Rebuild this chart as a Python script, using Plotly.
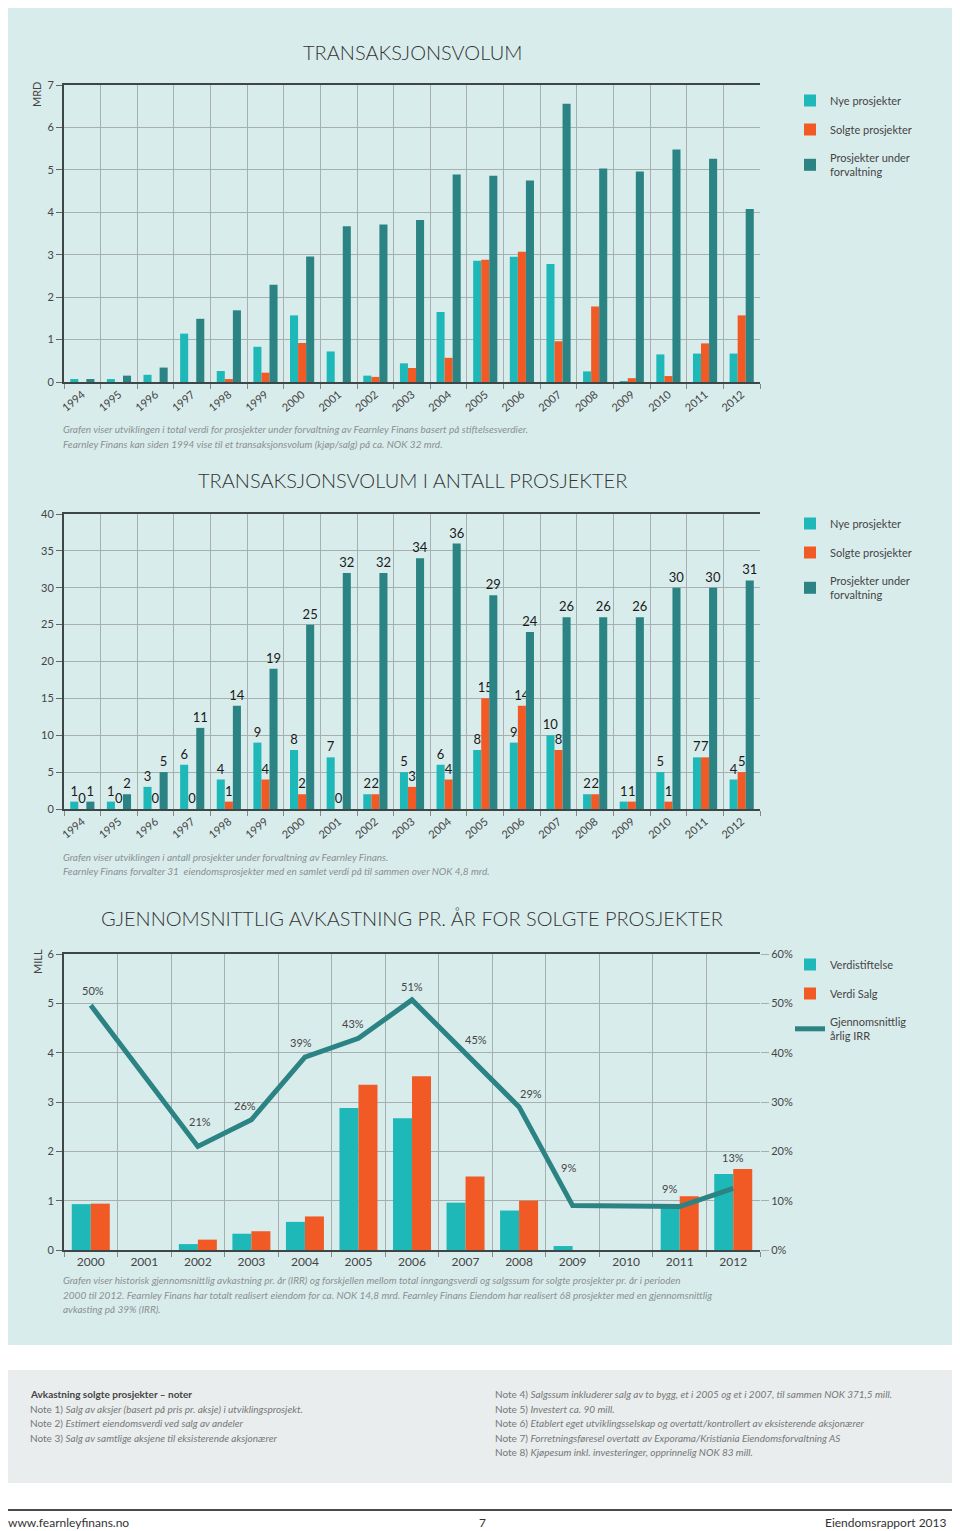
import plotly.graph_objects as go

# figure is placed at the page's 8px body margin; size it so the page does not overflow
OFF = 8
W, H = 960 - OFF, 1531 - OFF
def X(px): return (px - OFF) / W
def Y(py): return 1 - (py - OFF) / H

# ---------------- DATA ----------------
years = [str(y) for y in range(1994, 2013)]

# Chart 1: transaksjonsvolum (MRD)
vol_nye = [0.07, 0.07, 0.17, 1.14, 0.26, 0.83, 1.57, 0.72, 0.15, 0.44, 1.65, 2.86, 2.95, 2.78, 0.25, 0.01, 0.65, 0.67, 0.67]
vol_solgte = [0, 0, 0, 0, 0.07, 0.22, 0.92, 0, 0.12, 0.33, 0.57, 2.88, 3.07, 0.96, 1.78, 0.09, 0.14, 0.91, 1.57]
vol_forv = [0.07, 0.15, 0.34, 1.49, 1.69, 2.29, 2.96, 3.67, 3.71, 3.82, 4.89, 4.86, 4.75, 6.56, 5.03, 4.96, 5.48, 5.26, 4.08]

# Chart 2: antall prosjekter
ant_nye = [1, 1, 3, 6, 4, 9, 8, 7, 2, 5, 6, 8, 9, 10, 2, 1, 5, 7, 4]
ant_solgte = [0, 0, 0, 0, 1, 4, 2, 0, 2, 3, 4, 15, 14, 8, 2, 1, 1, 7, 5]
ant_forv = [1, 2, 5, 11, 14, 19, 25, 32, 32, 34, 36, 29, 24, 26, 26, 26, 30, 30, 31]

# Chart 3: avkastning
years3 = [str(y) for y in range(2000, 2013)]
verdi_stift = [0.93, None, 0.12, 0.33, 0.57, 2.88, 2.67, 0.96, 0.80, 0.08, None, 0.88, 1.54]
verdi_salg = [0.94, None, 0.21, 0.38, 0.68, 3.35, 3.52, 1.49, 1.00, None, None, 1.09, 1.64]
irr = [49.6, None, 21.0, 26.4, 39.1, 42.9, 50.7, None, 29.0, 9.0, None, 8.8, 12.5]
irr_labels = ["50%", "", "21%", "26%", "39%", "43%", "51%", "45%", "29%", "9%", "", "9%", "13%"]

# ---------------- STYLE ----------------
C_NYE = "#1fb8b8"
C_SOLGT = "#f15a24"
C_FORV = "#2b8384"
PANEL = "#d9ecec"
PLOTBG = "#e9f4f4"
GRID = "#a6b0b0"
AXIS = "#3d4747"
FONT = "Lato"
TXT = "#3a3a3a"

fig = go.Figure()

# Chart 1
for name, vals, col in [("Nye prosjekter", vol_nye, C_NYE), ("Solgte prosjekter", vol_solgte, C_SOLGT),
                        ("Prosjekter under<br>forvaltning", vol_forv, C_FORV)]:
    fig.add_trace(go.Bar(x=years, y=vals, name=name, marker=dict(color=col, line=dict(width=0)),
                         xaxis="x", yaxis="y", legend="legend", legendgroup="a" + name))

# Chart 2
for name, vals, col in [("Nye prosjekter", ant_nye, C_NYE), ("Solgte prosjekter", ant_solgte, C_SOLGT),
                        ("Prosjekter under<br>forvaltning", ant_forv, C_FORV)]:
    fig.add_trace(go.Bar(x=years, y=vals, name=name, marker=dict(color=col, line=dict(width=0)),
                         text=[str(v) for v in vals], textposition="outside", cliponaxis=False,
                         constraintext="none",
                         textfont=dict(family=FONT, size=13, color="#1a1a1a"),
                         xaxis="x2", yaxis="y2", legend="legend2", legendgroup="b" + name))

# Chart 3
fig.add_trace(go.Bar(x=years3, y=verdi_stift, name="Verdistiftelse", marker=dict(color=C_NYE, line=dict(width=0)),
                     width=0.355, offset=-0.355,
                     xaxis="x3", yaxis="y3", legend="legend3", legendgroup="c1"))
fig.add_trace(go.Bar(x=years3, y=verdi_salg, name="Verdi Salg", marker=dict(color=C_SOLGT, line=dict(width=0)),
                     width=0.355, offset=0.0,
                     xaxis="x3", yaxis="y3", legend="legend3", legendgroup="c2"))
fig.add_trace(go.Scatter(x=years3, y=irr, name="Gjennomsnittlig<br>årlig IRR", mode="lines", connectgaps=True,
                         line=dict(color=C_FORV, width=5), xaxis="x3", yaxis="y4",
                         legend="legend3", legendgroup="c3"))

# IRR labels (x as category index)
label_shift = [(2, 6), (0, 0), (2, 16), (-6, 6), (-4, 6), (-5, 6), (0, 5), (10, 5), (12, 5), (-4, 30), (0, 0), (-10, 10), (0, 22)]
ann = []
for i, lab in enumerate(irr_labels):
    if not lab:
        continue
    v = irr[i]
    if v is None:
        v = (irr[i - 1] + irr[i + 1]) / 2
    dx, dy = label_shift[i]
    ann.append(dict(x=i, y=v, xref="x3", yref="y4", text=lab, showarrow=False,
                    yanchor="bottom", xshift=dx, yshift=dy,
                    font=dict(family=FONT, size=11, color="#444")))

def xax(domain, anchor, angle, size, n):
    return dict(domain=domain, anchor=anchor, type="category", tickson="boundaries", range=[-0.5, n - 0.5],
                showgrid=True, gridcolor=GRID, gridwidth=1, showline=True, linecolor=AXIS, linewidth=2,
                mirror=True, ticks="outside", ticklen=5, tickcolor="#888", tickangle=angle,
                tickfont=dict(family=FONT, size=size, color="#444"), fixedrange=True)

def yax(domain, anchor, rng, dtick):
    return dict(domain=domain, anchor=anchor, range=rng, dtick=dtick, showgrid=True, gridcolor=GRID,
                gridwidth=1, showline=True, linecolor=AXIS, linewidth=2, ticks="outside", ticklen=6,
                tickcolor="#666", zeroline=False, tickfont=dict(family=FONT, size=11, color="#444"))

xd = [X(64), X(760)]
fig.update_layout(
    xaxis=xax(xd, "y", -40, 11, len(years)),
    yaxis=yax([Y(382), Y(85)], "x", [0, 7], 1),
    xaxis2=xax(xd, "y2", -40, 11, len(years)),
    yaxis2=yax([Y(809), Y(514)], "x2", [0, 40], 5),
    xaxis3=xax(xd, "y3", 0, 12, len(years3)),
    yaxis3=yax([Y(1250), Y(954)], "x3", [0, 6], 1),
    yaxis4=dict(overlaying="y3", anchor="x3", side="right", range=[0, 60], dtick=10, ticksuffix="%",
                showgrid=False, ticks="outside", ticklen=8, tickcolor=GRID, showline=False, zeroline=False,
                tickfont=dict(family=FONT, size=11, color="#444")),
)

legend_common = dict(font=dict(family=FONT, size=11, color="#444"), bgcolor="rgba(0,0,0,0)",
                     tracegroupgap=10, xanchor="left", yanchor="top", itemclick=False)
fig.update_layout(
    legend=dict(x=X(790), y=Y(86), **legend_common),
    legend2=dict(x=X(790), y=Y(509), **legend_common),
    legend3=dict(x=X(790), y=Y(950), **legend_common),
)

fig.update_layout(barmode="group", bargap=0.34, bargroupgap=0)

shapes = [
    dict(type="rect", xref="paper", yref="paper", x0=X(6), x1=X(958), y0=Y(1345), y1=Y(5),
         fillcolor=PANEL, line=dict(width=0), layer="below"),
    dict(type="rect", xref="paper", yref="paper", x0=X(6), x1=X(958), y0=Y(1483), y1=Y(1370),
         fillcolor="#e9eded", line=dict(width=0), layer="below"),
    dict(type="line", xref="paper", yref="paper", x0=X(6), x1=X(958), y0=Y(1510), y1=Y(1510),
         line=dict(color="#4a4a4a", width=2)),
]

def txt(x, y, s, size=11, color=TXT, xanchor="left", angle=0, yanchor="middle", weight="normal"):
    return dict(x=X(x), y=Y(y), xref="paper", yref="paper", text=s, showarrow=False, xanchor=xanchor,
                yanchor=yanchor, textangle=angle,
                font=dict(family=FONT, size=size, color=color, weight=weight))

cap = "#8a9090"
ann += [
    txt(412, 52, "TRANSAKSJONSVOLUM", 20, "#333", "center", weight=300),
    txt(412, 480, "TRANSAKSJONSVOLUM I ANTALL PROSJEKTER", 20, "#333", "center", weight=300),
    txt(412, 918, "GJENNOMSNITTLIG AVKASTNING PR. ÅR FOR SOLGTE PROSJEKTER", 20, "#333", "center", weight=300),
    txt(37, 95, "MRD", 11, "#444", "center", -90),
    txt(37, 962, "MILL", 11, "#444", "center", -90),
    txt(61, 429, "<i>Grafen viser utviklingen i total verdi for prosjekter under forvaltning av Fearnley Finans basert på stiftelsesverdier.</i>", 10, cap),
    txt(61, 444, "<i>Fearnley Finans kan siden 1994 vise til et transaksjonsvolum (kjøp/salg) på ca. NOK 32 mrd.</i>", 10, cap),
    txt(61, 857, "<i>Grafen viser utviklingen i antall prosjekter under forvaltning av Fearnley Finans.</i>", 10, cap),
    txt(61, 871, "<i>Fearnley Finans forvalter 31  eiendomsprosjekter med en samlet verdi på til sammen over NOK 4,8 mrd.</i>", 10, cap),
    txt(61, 1280, "<i>Grafen viser historisk gjennomsnittlig avkastning pr. år (IRR) og forskjellen mellom total inngangsverdi og salgssum for solgte prosjekter pr. år i perioden</i>", 10, cap),
    txt(61, 1295, "<i>2000 til 2012. Fearnley Finans har totalt realisert eiendom for ca. NOK 14,8 mrd. Fearnley Finans Eiendom har realisert 68 prosjekter med en gjennomsnittlig</i>", 10, cap),
    txt(61, 1309, "<i>avkasting på 39% (IRR).</i>", 10, cap),
    txt(28, 1394, "<b>Avkastning solgte prosjekter – noter</b>", 10, "#444"),
    txt(28, 1409, "Note 1) <i>Salg av aksjer (basert på pris pr. aksje) i utviklingsprosjekt.</i>", 10, "#777"),
    txt(28, 1423, "Note 2) <i>Estimert eiendomsverdi ved salg av andeler</i>", 10, "#777"),
    txt(28, 1438, "Note 3) <i>Salg av samtlige aksjene til eksisterende aksjonærer</i>", 10, "#777"),
    txt(493, 1394, "Note 4) <i>Salgssum inkluderer salg av to bygg, et i 2005 og et i 2007, til sammen NOK 371,5 mill.</i>", 10, "#777"),
    txt(493, 1409, "Note 5) <i>Investert ca. 90 mill.</i>", 10, "#777"),
    txt(493, 1423, "Note 6) <i>Etablert eget utviklingsselskap og overtatt/kontrollert av eksisterende aksjonærer</i>", 10, "#777"),
    txt(493, 1438, "Note 7) <i>Forretningsføresel overtatt av Exporama/Kristiania Eiendomsforvaltning AS</i>", 10, "#777"),
    txt(493, 1452, "Note 8) <i>Kjøpesum inkl. investeringer, opprinnelig NOK 83 mill.</i>", 10, "#777"),
    txt(6, 1522, "www.fearnleyfinans.no", 12, "#333"),
    txt(482, 1522, "7", 12, "#333", "center"),
    txt(949, 1522, "Eiendomsrapport 2013", 12, "#333", "right"),
]

fig.update_layout(
    width=W, height=H, margin=dict(l=0, r=0, t=0, b=0, pad=0, autoexpand=False),
    paper_bgcolor="white", plot_bgcolor=PLOTBG,
    font=dict(family=FONT, color=TXT),
    shapes=shapes, annotations=ann, showlegend=True,
)

fig.write_html("out.html")
